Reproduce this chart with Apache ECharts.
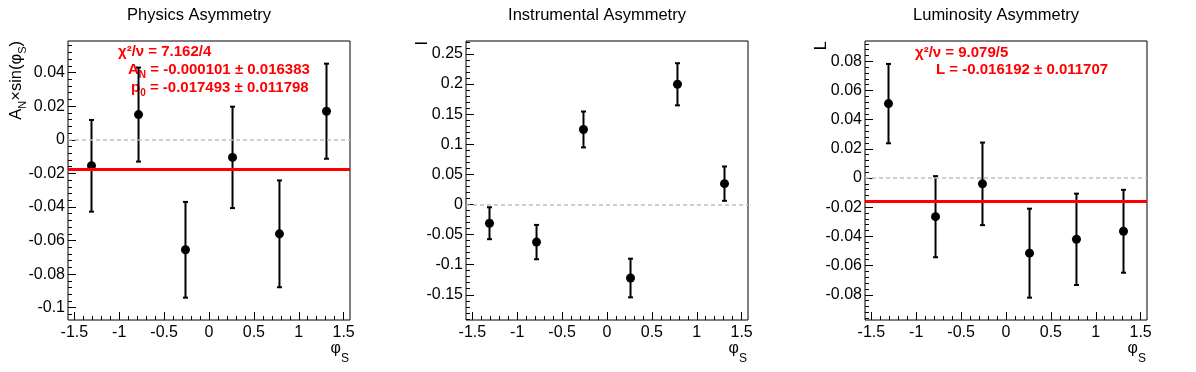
<!DOCTYPE html>
<html>
<head>
<meta charset="utf-8">
<script src="https://cdn.jsdelivr.net/npm/echarts@6/dist/echarts.min.js"></script>
<style>
  html, body { margin: 0; padding: 0; background: #fff; }
  #chart { width: 1196px; height: 372px; }
</style>
</head>
<body>
<div id="chart"></div>
<script>
// Tre asymmetripaneler (ROOT-stil): punkter med felstaplar, nollinje och anpassad konstant.
const TITLES = ['Physics Asymmetry', 'Instrumental Asymmetry', 'Luminosity Asymmetry']
const PHI = [-1.309, -0.785, -0.262, 0.262, 0.785, 1.309]

const PHYS_Y = [-0.0155, 0.0150, -0.0655, -0.0105, -0.0560, 0.0170]
const PHYS_ERR = [0.0273, 0.0280, 0.0285, 0.0302, 0.0318, 0.0283]
const INST_Y = [-0.0312, -0.0625, 0.1245, -0.1222, 0.1995, 0.0345]
const INST_ERR = [0.0265, 0.0285, 0.0298, 0.0321, 0.0350, 0.0285]
const LUMI_Y = [0.0510, -0.0265, -0.0040, -0.0515, -0.0420, -0.0365]
const LUMI_ERR = [0.0272, 0.0278, 0.0283, 0.0305, 0.0313, 0.0284]
const FIT_P0 = [-0.017493, null, -0.016192]

const X_RANGE = [-Math.PI / 2, Math.PI / 2]
const X_TICKS = [-1.5, -1, -0.5, 0, 0.5, 1, 1.5]
const PHYS_RANGE = [-0.1073, 0.0588]
const PHYS_TICKS = [-0.1, -0.08, -0.06, -0.04, -0.02, 0, 0.02, 0.04]
const INST_RANGE = [-0.1919, 0.2714]
const INST_TICKS = [-0.15, -0.1, -0.05, 0, 0.05, 0.1, 0.15, 0.2, 0.25]
const LUMI_RANGE = [-0.0973, 0.0939]
const LUMI_TICKS = [-0.08, -0.06, -0.04, -0.02, 0, 0.02, 0.04, 0.06, 0.08]

const STATS = [
  ['{t|χ²/ν = 7.162/4}', '{t|A}{s|N}{t| = -0.000101 ± 0.016383}', '{t|p}{s|0}{t| = -0.017493 ± 0.011798}'],
  [],
  ['{t|χ²/ν = 9.079/5}', '{t|L = -0.016192 ± 0.011707}']
]
const Y_TITLES = ['{t|A}{s|N}{t|×sin(φ}{s|S}{t|)}', '{t|I}', '{t|L}']

const FONT = '"Liberation Sans", Arial, Helvetica, sans-serif'
const LAYOUT = [{ left: 68, width: 282 }, { left: 466, width: 282 }, { left: 865, width: 282 }]
const TOP = 41, HEIGHT = 279
const TITLE_X = [199, 597, 996]
const STAT_POS = [[[118, 52.7], [128, 71.5], [131, 89]], [], [[915, 53.3], [936, 70.7]]]
const YT_X = [18, 422, 821]

const PANELS = [
  { y: PHYS_Y, err: PHYS_ERR, range: PHYS_RANGE, major: PHYS_TICKS, minor: 0.004 },
  { y: INST_Y, err: INST_ERR, range: INST_RANGE, major: INST_TICKS, minor: 0.01 },
  { y: LUMI_Y, err: LUMI_ERR, range: LUMI_RANGE, major: LUMI_TICKS, minor: 0.004 }
]

// delstreck mellan min och max (endast axelmarkeringar)
function minorTicks(range, step) {
  const out = []
  const k0 = Math.ceil(range[0] / step - 1e-9), k1 = Math.floor(range[1] / step + 1e-9)
  for (let k = k0; k <= k1; k++) out.push(+(k * step).toFixed(6))
  return out
}

const grids = [], xAxes = [], yAxes = [], series = [], graphics = []
const label = { fontSize: 16, color: '#000', fontFamily: FONT }

PANELS.forEach((p, i) => {
  const g = LAYOUT[i]
  grids.push({ left: g.left, top: TOP, width: g.width, height: HEIGHT, show: true,
    borderColor: '#000', borderWidth: 1, containLabel: false, outerBoundsMode: 'none' })
  const base = { gridIndex: i, type: 'value', splitLine: { show: false }, axisLine: { show: false, onZero: false } }
  xAxes.push(Object.assign({}, base, { min: X_RANGE[0], max: X_RANGE[1], position: 'bottom',
    axisTick: { inside: true, length: 8, customValues: X_TICKS, lineStyle: { color: '#000' } },
    axisLabel: Object.assign({ customValues: X_TICKS, margin: 5 }, label) }))
  xAxes.push(Object.assign({}, base, { min: X_RANGE[0], max: X_RANGE[1], position: 'bottom',
    axisTick: { inside: true, length: 4, customValues: minorTicks([-1.5, 1.5], 0.1), lineStyle: { color: '#000' } },
    axisLabel: { show: false } }))
  yAxes.push(Object.assign({}, base, { min: p.range[0], max: p.range[1], position: 'left',
    axisTick: { inside: true, length: 8, customValues: p.major, lineStyle: { color: '#000' } },
    axisLabel: Object.assign({ customValues: p.major, margin: 3 }, label) }))
  yAxes.push(Object.assign({}, base, { min: p.range[0], max: p.range[1], position: 'left',
    axisTick: { inside: true, length: 4, customValues: minorTicks(p.range, p.minor), lineStyle: { color: '#000' } },
    axisLabel: { show: false } }))

  const pts = PHI.map((x, j) => [x, p.y[j], p.err[j]])
  series.push({
    type: 'custom', xAxisIndex: 2 * i, yAxisIndex: 2 * i, z: 2, silent: true,
    encode: { x: 0, y: 1 },
    data: pts,
    renderItem: (params, api) => {
      const x = api.value(0), y = api.value(1), e = api.value(2)
      const a = api.coord([x, y + e]), b = api.coord([x, y - e])
      const st = { stroke: '#000', lineWidth: 2 }
      return { type: 'group', children: [
        { type: 'line', shape: { x1: a[0], y1: a[1], x2: b[0], y2: b[1] }, style: st },
        { type: 'line', shape: { x1: a[0] - 2.5, y1: a[1], x2: a[0] + 2.5, y2: a[1] }, style: st },
        { type: 'line', shape: { x1: b[0] - 2.5, y1: b[1], x2: b[0] + 2.5, y2: b[1] }, style: st }
      ] }
    },
    markLine: { silent: true, symbol: 'none', label: { show: false }, precision: 6,
      data: [{ yAxis: 0, lineStyle: { color: '#c0c0c0', width: 1.5, type: [4, 3] } }] }
  })
  const sc = {
    type: 'scatter', xAxisIndex: 2 * i, yAxisIndex: 2 * i, z: 3, silent: true,
    symbolSize: 9, itemStyle: { color: '#000', opacity: 1 },
    data: pts.map(d => [d[0], d[1]])
  }
  if (FIT_P0[i] != null) {
    sc.markLine = { silent: true, symbol: 'none', label: { show: false }, precision: 6,
      data: [{ yAxis: FIT_P0[i], lineStyle: { color: '#ff0000', width: 3, type: 'solid' } }] }
  }
  series.push(sc)

  // titel
  graphics.push({ type: 'text', x: TITLE_X[i], y: 15.3, silent: true,
    style: { text: TITLES[i], align: 'center', verticalAlign: 'middle', fill: '#000', font: '16.5px ' + FONT } })
  // y-titel (roterad)
  graphics.push({ type: 'text', x: YT_X[i], y: 41, rotation: Math.PI / 2, silent: true,
    style: { text: Y_TITLES[i], align: 'right', verticalAlign: 'middle', fill: '#000',
      rich: { t: { fontSize: 16.5, fontFamily: FONT, verticalAlign: 'top', lineHeight: 16.5 },
              s: { fontSize: 11, fontFamily: FONT, verticalAlign: 'bottom', lineHeight: 21 } } } })
  // x-titel
  graphics.push({ type: 'text', x: g.left + g.width - 1, y: 353, silent: true,
    style: { text: '{t|φ}{s|S}', align: 'right', verticalAlign: 'middle', fill: '#000',
      rich: { t: { fontSize: 16, fontFamily: FONT, verticalAlign: 'top', lineHeight: 16 },
              s: { fontSize: 12, fontFamily: FONT, verticalAlign: 'bottom', lineHeight: 24 } } } })
  // fitstatistik
  STATS[i].forEach((txt, k) => {
    graphics.push({ type: 'text', x: STAT_POS[i][k][0], y: STAT_POS[i][k][1], silent: true,
      style: { text: txt, align: 'left', verticalAlign: 'middle', fill: '#ff0000',
        rich: { t: { fontSize: 15, fontWeight: 'bold', fontFamily: FONT, fill: '#ff0000', verticalAlign: 'top', lineHeight: 16 },
                s: { fontSize: 10, fontWeight: 'bold', fontFamily: FONT, fill: '#ff0000', verticalAlign: 'bottom', lineHeight: 17.5 } } } })
  })
})

const chart = echarts.init(document.getElementById('chart'))
chart.setOption({
  animation: false,
  textStyle: { fontFamily: FONT },
  grid: grids, xAxis: xAxes, yAxis: yAxes, series: series,
  graphic: { elements: graphics }
})
</script>
</body>
</html>
